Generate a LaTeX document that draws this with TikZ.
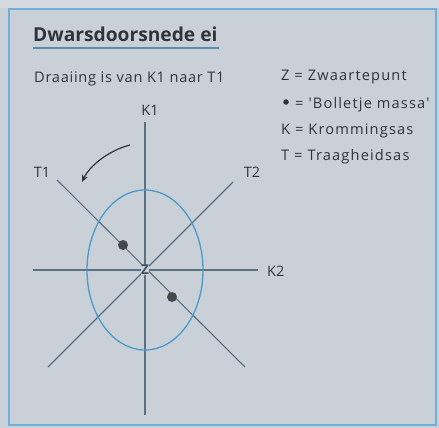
\documentclass[tikz,border=0pt]{standalone}
\usepackage{fontspec}
\setmainfont{Open Sans}
\newfontfamily\subfont[LetterSpace=5]{Open Sans}
\newfontfamily\legfont[LetterSpace=8]{Open Sans}
\usetikzlibrary{arrows.meta}
\definecolor{bg}{HTML}{C9D0D8}
\definecolor{frame}{HTML}{6FAFD8}
\definecolor{axis}{HTML}{5A7080}
\definecolor{egg}{HTML}{4A9ACB}
\definecolor{txt}{HTML}{2E3438}
\begin{document}
\begin{tikzpicture}[x=1pt,y=-1pt,
  lbl/.style={font=\fontsize{14.4}{16}\selectfont, text=txt, inner sep=0pt},
  sub/.style={font=\fontsize{14.6}{16}\subfont, text=txt, inner sep=0pt},
  leg/.style={font=\fontsize{14.6}{16}\legfont, text=txt, inner sep=0pt},
  axisline/.style={draw=axis, line width=1.1pt},
  dotm/.style={circle, fill=txt!90, inner sep=0pt, minimum size=10pt}]
\useasboundingbox (0,0) rectangle (439,428);
\fill[bg] (0,0) rectangle (439,428);
\fill[bg!80!white] (0,0) rectangle (439,8);
\draw[frame, line width=2pt] (9,9) rectangle (436,425);
% title
\node[lbl, anchor=base west, font=\fontsize{19.2}{22}\selectfont\bfseries] (title) at (33,42) {Dwarsdoorsnede ei};
\draw[frame!80!black, line width=1.5pt] (33,48) -- (219,48);
\node[sub, anchor=base west] (subt) at (34,82) {Draaiing is van K1 naar T1};
% legend
\node[leg, anchor=base west] (l1) at (281,81) {Z = Zwaartepunt};
\node[circle, fill=txt, inner sep=0pt, minimum size=5.5pt] (ldot) at (286,102) {};
\node[leg, anchor=base west] (l2) at (295,108) {= 'Bolletje massa'};
\node[leg, anchor=base west] (l3) at (281,134) {K = Krommingsas};
\node[leg, anchor=base west] (l4) at (281,160) {T = Traagheidsas};
% axes
\coordinate (Z) at (145,270);
\coordinate (k1t) at (145,122);
\coordinate (k1b) at (145,415);
\coordinate (k2l) at (33,270);
\coordinate (k2r) at (258,270);
\coordinate (t1a) at (57,180);
\coordinate (t1b) at (245,367);
\coordinate (t2a) at (233,182);
\coordinate (t2b) at (48,367);
\draw[axisline] (k1t) -- (k1b);
\draw[axisline] (k2l) -- (k2r);
\draw[axisline] (t1a) -- (t1b);
\draw[axisline] (t2a) -- (t2b);
\draw[egg, line width=1.3pt] (Z) ellipse [x radius=58, y radius=80];
\node[lbl] (K1) at (150,110) {K1};
\node[lbl, anchor=west] (K2) at (267,271) {K2};
\node[lbl] (T1) at (42,172) {T1};
\node[lbl] (T2) at (252,172) {T2};
\node[lbl, fill=bg, inner sep=0.5pt, font=\fontsize{13.5}{14}\selectfont\bfseries, text=axis!70!black] (Zl) at (Z) {Z};
\node[dotm] (d1) at (123,245) {};
\node[dotm] (d2) at (172,297) {};
% rotation arrow
\coordinate (as) at (130,145);
\coordinate (ae) at (82,182);
\draw[txt, line width=1.2pt, -{Stealth[length=7pt,width=6pt]}] (as) .. controls (110,150) and (90,165) .. (ae);
\end{tikzpicture}
\end{document}
